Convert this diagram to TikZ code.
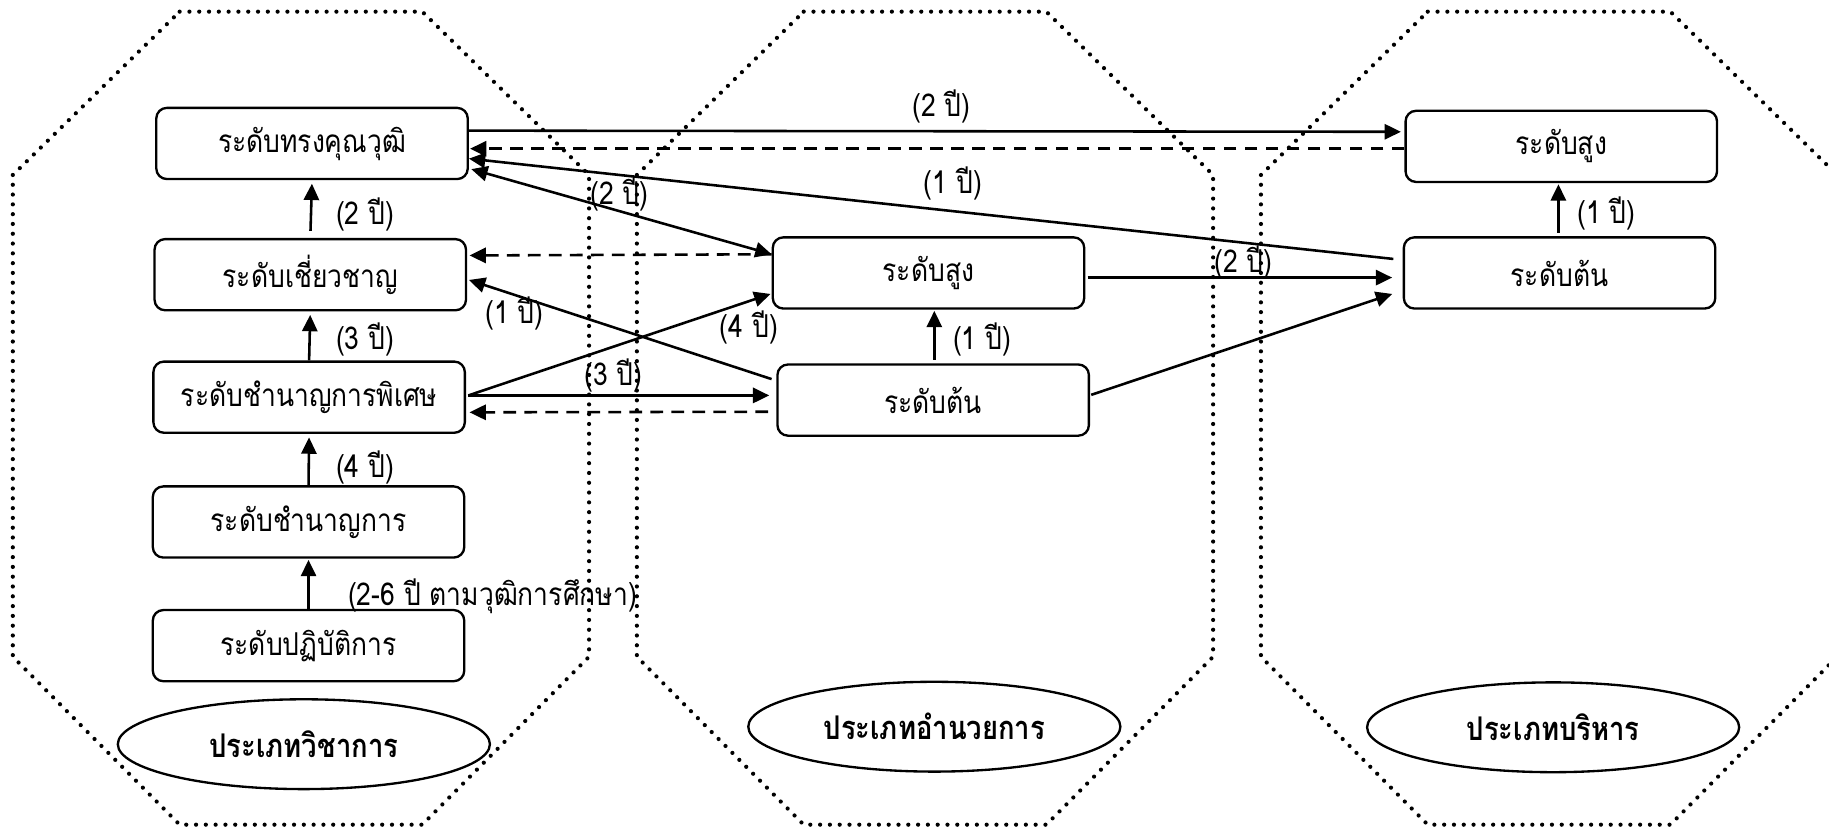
\documentclass[tikz,border=0pt]{standalone}
\usepackage{fontspec}
\setmainfont[Script=Thai,FakeStretch=0.84]{Loma}
\usetikzlibrary{arrows.meta,calc,shapes.geometric}
\tikzset{
  box/.style={draw, rounded corners=4.5pt, line width=1pt, minimum width=133.5pt, minimum height=30.5pt, inner sep=0pt, font=\fontsize{13.5}{15}\selectfont},
  cat/.style={draw, ellipse, line width=1pt, minimum width=159.5pt, minimum height=38.5pt, inner sep=0pt, font=\fontsize{14}{16}\selectfont\bfseries},
  tip/.style={Triangle[length=7pt,width=6.5pt]},
  arr/.style={line width=1.1pt, -{Triangle[length=7pt,width=6.5pt]}},
  darr/.style={arr, dash pattern=on 5.5pt off 3.5pt},
  lbl/.style={inner sep=0pt, font=\fontsize{13.5}{15}\selectfont},
  oct/.style={line width=1.8pt, line cap=round, dash pattern=on 0pt off 4.2pt},
}
\begin{document}
\begin{tikzpicture}[x=0.5pt,y=-0.5pt]
\useasboundingbox (0,0) rectangle (1568,710);
% dotted octagons
\begin{scope}
\clip (0,0) rectangle (1568,710);
\foreach \dx in {0,535,1070}{
  \draw[oct, shift={(\dx,0)}] (154,10) -- (362,10) -- (505,150) -- (505,563) -- (362,707) -- (154,707) -- (11,563) -- (11,150) -- cycle;
}
\end{scope}
% left column
\node[box] (tk) at (267.5,123) {ระดับทรงคุณวุฒิ};
\node[box] (cc) at (266,235.5) {ระดับเชี่ยวชาญ};
\node[box] (cp) at (265,340.5) {ระดับชำนาญการพิเศษ};
\node[box] (cn) at (264.5,447.5) {ระดับชำนาญการ};
\node[box] (pt) at (264.5,553.5) {ระดับปฏิบัติการ};
\node[cat] (ca) at (260.5,638) {ประเภทวิชาการ};
% middle column
\node[box] (ms) at (796,234) {ระดับสูง};
\node[box] (mt) at (800,343) {ระดับต้น};
\node[cat] (cm) at (801,623) {ประเภทอำนวยการ};
% right column
\node[box] (rs) at (1338.5,125.5) {ระดับสูง};
\node[box] (rt) at (1337,234) {ระดับต้น};
\node[cat] (cr) at (1331.5,623.5) {ประเภทบริหาร};
% helper points
\coordinate (mtn) at ($(mt.north)+(1,0)$);
\coordinate (rtn) at ($(rt.north)+(-1,0)$);
% vertical arrows
\draw[arr, shorten <=3pt, shorten >=1.5pt] (cc.north) -- (tk.south);
\draw[arr, shorten >=1.5pt] (cp.north) -- (cc.south);
\draw[arr, shorten >=1.5pt] (cn.north) -- (cp.south);
\draw[arr, shorten >=0.5pt] (pt.north) -- (cn.south);
\draw[arr, shorten <=1.5pt, shorten >=0.5pt] (mtn) -- (mtn |- ms.south);
\draw[arr, shorten <=1.5pt, shorten >=0.5pt] (rtn) -- (rtn |- rs.south);
% cross arrows
\draw[arr] ($(tk.east)+(0,-11)$) -- ($(rs.west)+(-3,-12.5)$);
\draw[darr] ($(rs.west)+(0,2)$) -- ($(tk.east)+(1,4.5)$);
\draw[arr] ($(rt.west)+(-8,-12)$) -- ($(tk.east)+(0,13)$);
\draw[darr] ($(ms.west)+(0,-16)$) -- ($(cc.east)+(2,-16.5)$);
\draw[line width=1.1pt, {Triangle[length=7pt,width=6.5pt]}-{Triangle[length=7pt,width=6.5pt]}] ($(tk.east)+(2,22)$) -- ($(ms.west)+(0,-16)$);
\draw[arr] ($(mt.west)+(-4,-18)$) -- ($(cc.east)+(1.5,4.5)$);
\draw[arr] ($(cp.east)+(2,-1.5)$) -- ($(ms.west)+(-1,18)$);
\draw[arr] ($(cp.east)+(2,-1.5)$) -- ($(mt.west)+(-6,-4)$);
\draw[darr] ($(mt.west)+(-7,10)$) -- ($(cp.east)+(3,13)$);
\draw[arr] ($(ms.east)+(2,4)$) -- ($(rt.west)+(-9,4)$);
\draw[arr] ($(mt.east)+(1,-4.5)$) -- ($(rt.west)+(-9,18)$);
% labels
\node[lbl] (l1) at (313,184) {(2 ปี)};
\node[lbl] (l2) at (313,291) {(3 ปี)};
\node[lbl] (l3) at (313,401) {(4 ปี)};
\node[lbl, anchor=west] (l4) at (298,511) {(2-6 ปี ตามวุฒิการศึกษา)};
\node[lbl] (l5) at (807,91) {(2 ปี)};
\node[lbl] (l6) at (817,157) {(1 ปี)};
\node[lbl] (l7) at (531,167) {(2 ปี)};
\node[lbl] (l8) at (642,281) {(4 ปี)};
\node[lbl] (l9) at (842,291) {(1 ปี)};
\node[lbl] (l10) at (526,322) {(3 ปี)};
\node[lbl] (l11) at (441,269) {(1 ปี)};
\node[lbl] (l12) at (1066,225) {(2 ปี)};
\node[lbl] (l13) at (1377,183) {(1 ปี)};
\end{tikzpicture}
\end{document}
